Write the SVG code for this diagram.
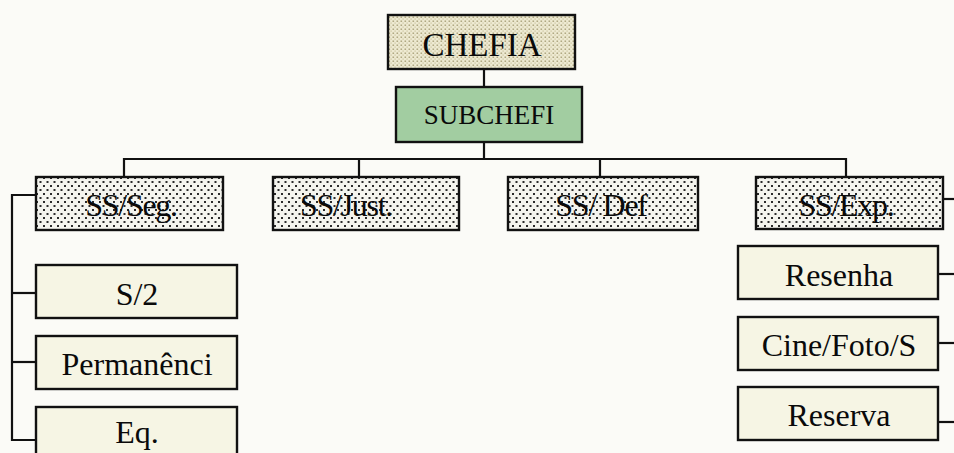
<svg xmlns="http://www.w3.org/2000/svg" width="954" height="453" viewBox="0 0 954 453">
  <defs>
    <!-- fine beige stipple for the top box -->
    <pattern id="stippleBeige" width="4" height="4" patternUnits="userSpaceOnUse">
      <rect width="4" height="4" fill="#eeead2"/>
      <rect x="0.5" y="0.5" width="1.6" height="1.4" fill="#aaa27a"/>
      <rect x="2.5" y="2.5" width="1.2" height="1.2" fill="#c8c19c"/>
    </pattern>
    <!-- coarse black dots for the section boxes -->
    <pattern id="dotsGray" width="7" height="8" patternUnits="userSpaceOnUse">
      <rect width="7" height="8" fill="#f4f4ee"/>
      <rect x="1" y="1" width="2" height="2" fill="#2a2a2a"/>
      <rect x="4.5" y="5" width="2" height="2" fill="#2a2a2a"/>
    </pattern>
    <style>
      .box { stroke: #111; stroke-width: 2.4; }
      .chief { fill: url(#stippleBeige); }
      .sub { fill: #a2cda1; }
      .sect { fill: url(#dotsGray); }
      .unit { fill: #f6f5e4; }
      .lbl { font-family: "Liberation Serif", "Times New Roman", serif; fill: #0a0a0a; text-anchor: middle; }
      .conn { stroke: #111; stroke-width: 2.2; fill: none; }
    </style>
  </defs>

  <rect width="954" height="453" fill="#fbfbf7"/>

  <!-- connectors -->
  <g id="connectors" class="conn">
    <path d="M484 69 V87"/>
    <path d="M484 142 V159"/>
    <path d="M124 177 V159 H846 V177"/>
    <path d="M359 159 V177"/>
    <path d="M600 159 V177"/>
    <!-- left bracket -->
    <path d="M36 195 H12 V440 H36"/>
    <path d="M12 293 H36"/>
    <path d="M12 362 H36"/>
    <!-- right stubs -->
    <path d="M943 199 H954"/>
    <path d="M938 274 H954"/>
    <path d="M938 343 H954"/>
    <path d="M938 422 H954"/>
  </g>

  <g id="chefia">
    <rect class="box chief" x="388" y="15" width="187" height="54"/>
    <text class="lbl" x="482" y="56" font-size="33">CHEFIA</text>
  </g>

  <g id="subchefi">
    <rect class="box sub" x="396" y="87" width="186" height="55"/>
    <text class="lbl" x="489" y="124" font-size="27">SUBCHEFI</text>
  </g>

  <g id="ss-seg">
    <rect class="box sect" x="36" y="177" width="187" height="53"/>
    <text class="lbl" x="131" y="216" font-size="32" letter-spacing="-1.3">SS/Seg.</text>
  </g>

  <g id="ss-just">
    <rect class="box sect" x="273" y="177" width="186" height="53"/>
    <text class="lbl" x="346" y="216" font-size="32" letter-spacing="-1.3">SS/Just.</text>
  </g>

  <g id="ss-def">
    <rect class="box sect" x="508" y="177" width="190" height="53"/>
    <text class="lbl" x="601" y="216" font-size="32" letter-spacing="-1.3">SS/ Def</text>
  </g>

  <g id="ss-exp">
    <rect class="box sect" x="756" y="177" width="187" height="52"/>
    <text class="lbl" x="846" y="216" font-size="32" letter-spacing="-1.3">SS/Exp.</text>
  </g>

  <g id="s2">
    <rect class="box unit" x="36" y="265" width="201" height="53"/>
    <text class="lbl" x="137" y="305" font-size="32">S/2</text>
  </g>

  <g id="permanencia">
    <rect class="box unit" x="36" y="336" width="201" height="53"/>
    <text class="lbl" x="137" y="375" font-size="32">Permanênci</text>
  </g>

  <g id="eq">
    <rect class="box unit" x="36" y="407" width="201" height="56"/>
    <text class="lbl" x="137" y="443" font-size="32">Eq.</text>
  </g>

  <g id="resenha">
    <rect class="box unit" x="738" y="246" width="200" height="53"/>
    <text class="lbl" x="839" y="286" font-size="32">Resenha</text>
  </g>

  <g id="cine-foto">
    <rect class="box unit" x="738" y="317" width="200" height="53"/>
    <text class="lbl" x="839" y="356" font-size="32">Cine/Foto/S</text>
  </g>

  <g id="reserva">
    <rect class="box unit" x="738" y="387" width="200" height="53"/>
    <text class="lbl" x="839" y="426" font-size="32">Reserva</text>
  </g>
</svg>
